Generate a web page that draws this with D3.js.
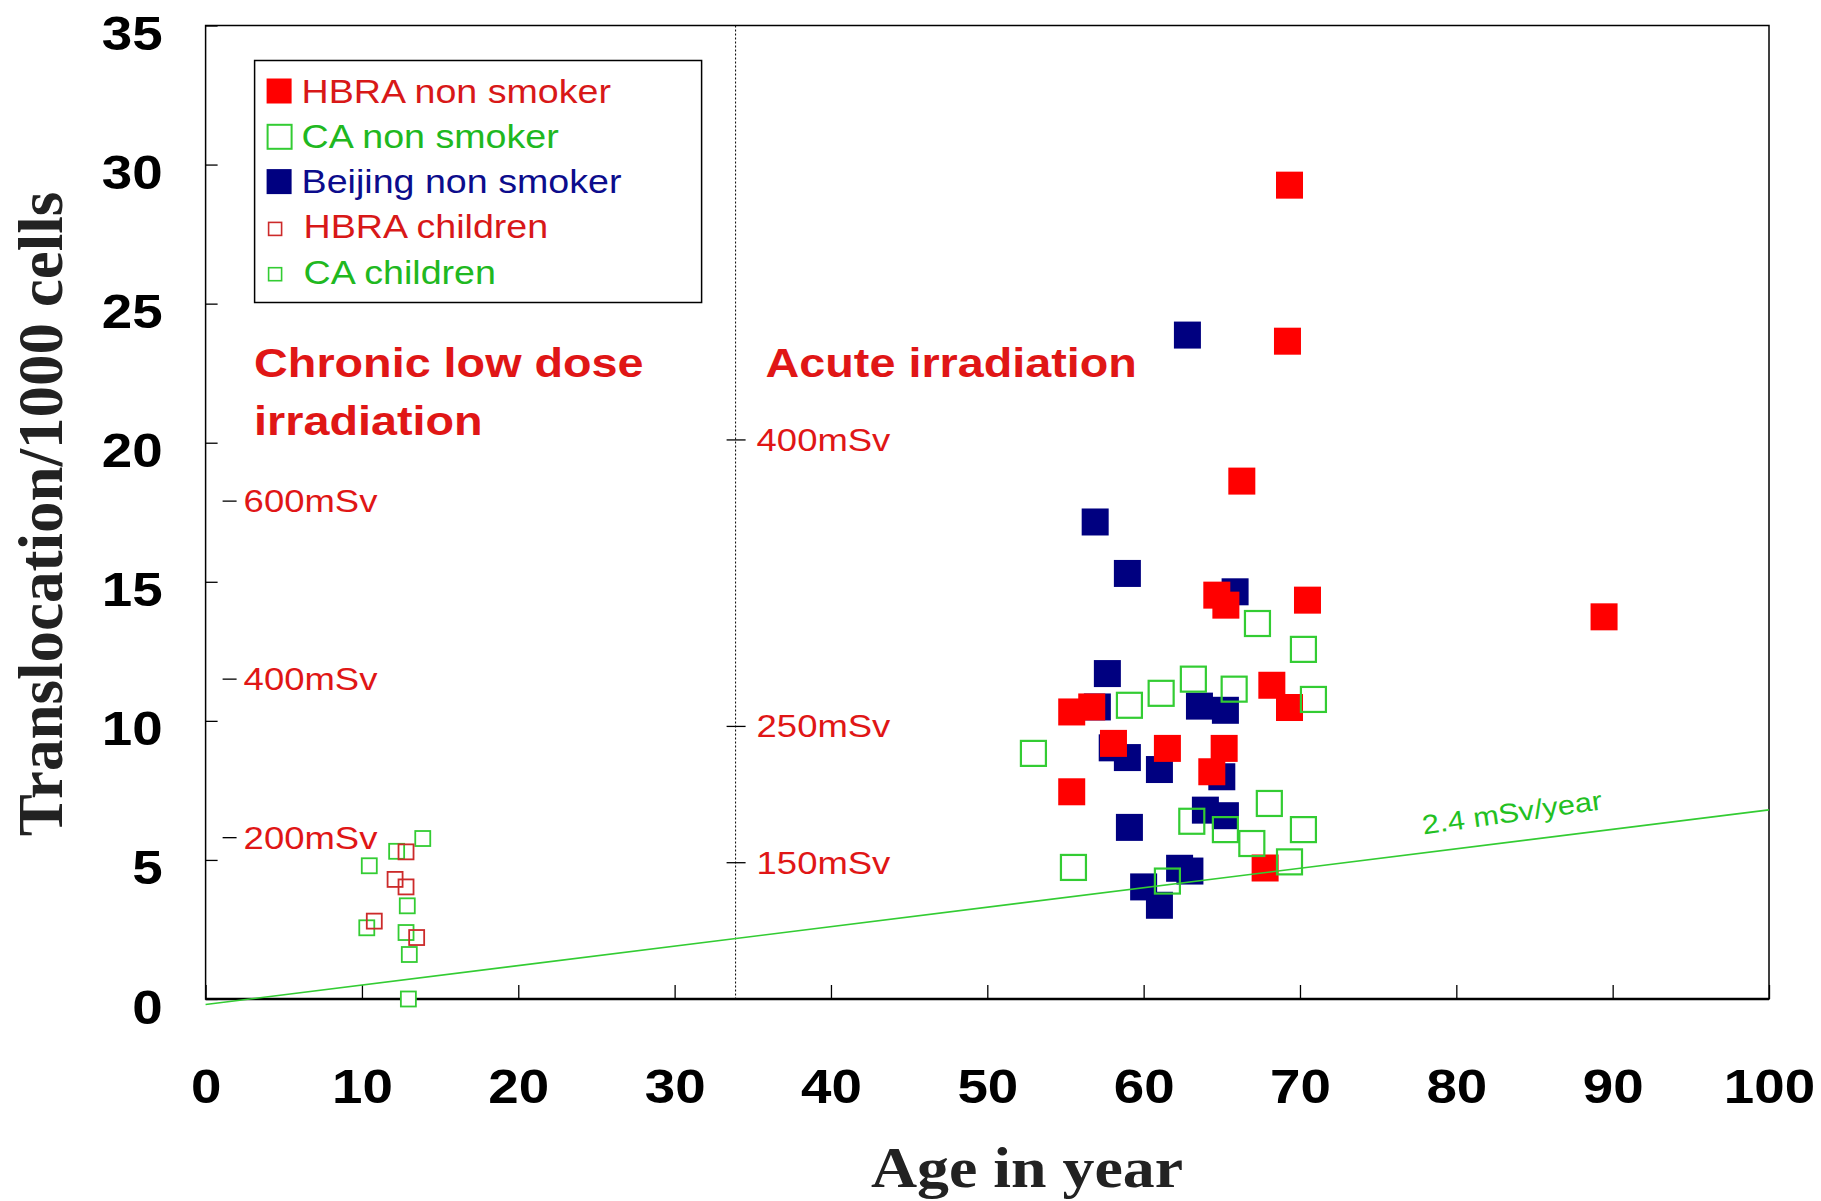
<!DOCTYPE html>
<html>
<head>
<meta charset="utf-8">
<script src="https://cdn.jsdelivr.net/npm/d3@7"></script>
<style>
  body { margin: 0; background: #fff; }
  svg { display: block; }
</style>
</head>
<body>
<svg id="chart" width="1821" height="1201"></svg>
<script>
// [age, translocations per 1000 cells]
const hbraAdult = [
  [69.33, 29.26], [69.2, 23.65], [66.28, 18.62], [64.68, 14.52], [65.26, 14.16],
  [70.48, 14.34], [89.45, 13.74], [68.2, 11.28], [69.33, 10.48], [55.4, 10.32],
  [56.68, 10.5], [58.07, 9.19], [61.52, 9.01], [65.15, 9.01], [64.36, 8.17],
  [55.4, 7.45], [67.77, 4.71]
];
const beijingAdult = [
  [62.8, 23.87], [56.9, 17.15], [58.96, 15.3], [65.85, 14.64], [57.68, 11.7],
  [57.04, 10.5], [63.57, 10.53], [65.23, 10.38], [57.99, 9.03], [58.96, 8.68],
  [61.01, 8.25], [65.0, 7.99], [59.09, 6.17], [63.95, 6.79], [65.23, 6.59],
  [62.3, 4.7], [62.96, 4.6], [60.0, 4.03], [61.01, 3.37]
];
const caAdult = [
  [67.28, 13.5], [70.22, 12.57], [63.18, 11.5], [61.12, 10.99], [65.79, 11.14],
  [59.09, 10.56], [70.86, 10.77], [52.95, 8.83], [68.04, 7.03], [63.08, 6.39],
  [65.23, 6.09], [66.92, 5.59], [70.22, 6.09], [69.33, 4.93], [55.51, 4.73],
  [61.52, 4.24]
];
const hbraChildren = [[12.82, 5.29], [12.12, 4.3], [12.82, 4.03], [10.79, 2.8], [13.5, 2.21]];
const caChildren = [
  [13.89, 5.77], [12.22, 5.31], [10.47, 4.79], [12.9, 3.35], [10.31, 2.56],
  [12.82, 2.39], [13.03, 1.6], [12.97, 0.0]
];

const xTicks = [0, 10, 20, 30, 40, 50, 60, 70, 80, 90, 100];
const yTicks = [0, 5, 10, 15, 20, 25, 30, 35];
const backgroundLine = [[0, -0.2], [100, 6.8]];   // 2.4 mSv/year
const dividerAge = 33.9;
const chronicDose = [["600mSv", 17.9], ["400mSv", 11.5], ["200mSv", 5.8]];
const acuteDose = [["400mSv", 20.1], ["250mSv", 9.8], ["150mSv", 4.9]];
const legendItems = [
  { label: "HBRA non smoker", kind: "big-fill", color: "#ff0000", text: "#d81818" },
  { label: "CA non smoker", kind: "big-open", color: "#33cc33", text: "#20b820" },
  { label: "Beijing non smoker", kind: "big-fill", color: "#000080", text: "#0c0c8c" },
  { label: "HBRA children", kind: "small-open", color: "#cc2a2a", text: "#d81818" },
  { label: "CA children", kind: "small-open", color: "#33cc33", text: "#20b820" }
];

const SX = 1.14; // the source picture is a little stretched sideways
const RED = "#e01616";

const svg = d3.select("#chart"),
    margin = { top: 25.5, right: 52, bottom: 202, left: 205.6 },
    width = +svg.attr("width") - margin.left - margin.right,
    height = +svg.attr("height") - margin.top - margin.bottom;

const x = d3.scaleLinear().domain([0, 100]).range([0, width]);
const y = d3.scaleLinear().domain([0, 35]).range([height, 0]);

const g = svg.append("g")
    .attr("transform", "translate(" + margin.left + "," + margin.top + ")");

const stext = (sel, px, py, str) => sel.append("text")
    .attr("transform", "translate(" + px + "," + py + ") scale(" + SX + ",1)")
    .text(str);

// frame
g.append("rect")
    .attr("width", width).attr("height", height)
    .attr("fill", "none").attr("stroke", "#000").attr("stroke-width", 1.5);

// axes
const yAxis = g.append("g")
    .call(d3.axisLeft(y).tickValues(yTicks).tickSize(-12).tickFormat(d3.format("d")));
const xAxis = g.append("g")
    .attr("transform", "translate(0," + height + ")")
    .call(d3.axisBottom(x).tickValues(xTicks).tickSize(-14).tickFormat(d3.format("d")));

[yAxis, xAxis].forEach((a) => {
    a.select(".domain").remove();
    a.selectAll("line").attr("stroke", "#000").attr("stroke-width", 1.3);
    a.selectAll("text")
        .attr("fill", "#000")
        .attr("font-family", "'Liberation Sans', Arial, sans-serif")
        .attr("font-weight", "bold")
        .attr("font-size", 48);
});
yAxis.selectAll("text")
    .attr("x", 0).attr("dy", "0.5em")
    .attr("transform", "translate(-43,0) scale(" + SX + ",1)");
xAxis.selectAll("text")
    .attr("y", 0).attr("dy", "0.71em")
    .attr("transform", "translate(0,70) scale(" + SX + ",1)");

g.append("line")
    .attr("x1", 0).attr("x2", width).attr("y1", height).attr("y2", height)
    .attr("stroke", "#000").attr("stroke-width", 2.5);

// divider between chronic and acute
g.append("line")
    .attr("x1", x(dividerAge)).attr("x2", x(dividerAge))
    .attr("y1", 0).attr("y2", height)
    .attr("stroke", "#000").attr("stroke-width", 1)
    .attr("stroke-dasharray", "2,2");

// dose labels
const doseG = g.append("g")
    .attr("font-family", "'Liberation Sans', Arial, sans-serif")
    .attr("font-size", 32).attr("fill", RED);
chronicDose.forEach(([lab, v]) => {
    doseG.append("line").attr("x1", 17).attr("x2", 31).attr("y1", y(v)).attr("y2", y(v))
        .attr("stroke", "#000").attr("stroke-width", 1.3);
    stext(doseG, 38, y(v) + 11, lab);
});
acuteDose.forEach(([lab, v]) => {
    doseG.append("line").attr("x1", x(dividerAge) - 9).attr("x2", x(dividerAge) + 10)
        .attr("y1", y(v)).attr("y2", y(v))
        .attr("stroke", "#000").attr("stroke-width", 1.3);
    stext(doseG, x(dividerAge) + 21, y(v) + 11, lab);
});

// region titles
const titleG = g.append("g")
    .attr("font-family", "'Liberation Sans', Arial, sans-serif")
    .attr("font-weight", "bold").attr("font-size", 41).attr("fill", RED);
stext(titleG, 48.5, 351, "Chronic low dose");
stext(titleG, 48.5, 409, "irradiation");
stext(titleG, x(dividerAge) + 30, 351, "Acute irradiation");

// points
const big = 27, small = 15;
const squares = (data, size, fill, stroke, sw) => g.append("g")
    .selectAll("rect")
    .data(data)
    .enter()
    .append("rect")
    .attr("x", (d) => x(d[0]) - size / 2)
    .attr("y", (d) => y(d[1]) - size / 2)
    .attr("width", size).attr("height", size)
    .attr("fill", fill)
    .attr("stroke", stroke)
    .attr("stroke-width", sw);

squares(beijingAdult, big, "#000080", "none", 0);
squares(hbraAdult, big, "#ff0000", "none", 0);
squares(caAdult, big - 2, "none", "#33cc33", 2.2);
squares(caChildren, small, "#fff", "#33cc33", 1.8);
squares(hbraChildren, small, "none", "#cc2a2a", 1.8);

// 2.4 mSv/year line
g.append("path")
    .datum(backgroundLine)
    .attr("d", d3.line().x((d) => x(d[0])).y((d) => y(d[1])))
    .attr("fill", "none").attr("stroke", "#33cc33").attr("stroke-width", 1.6);
g.append("text")
    .attr("transform", "translate(1218,809) rotate(-8) scale(" + SX + ",1)")
    .attr("font-family", "'Liberation Sans', Arial, sans-serif")
    .attr("font-size", 27).attr("fill", "#22c022")
    .text("2.4 mSv/year");

// legend
const lg = g.append("g").attr("transform", "translate(49,35)");
lg.append("rect")
    .attr("width", 447).attr("height", 242)
    .attr("fill", "#fff").attr("stroke", "#000").attr("stroke-width", 1.5);
const rowY = (i) => 31 + i * 45.3;
legendItems.forEach((it, i) => {
    const row = lg.append("g").attr("transform", "translate(0," + rowY(i) + ")");
    if (it.kind === "big-fill") {
        row.append("rect").attr("x", 12).attr("y", -13).attr("width", 25).attr("height", 25)
            .attr("fill", it.color);
    } else if (it.kind === "big-open") {
        row.append("rect").attr("x", 13).attr("y", -12).attr("width", 24).attr("height", 24)
            .attr("fill", "none").attr("stroke", it.color).attr("stroke-width", 2);
    } else {
        row.append("rect").attr("x", 14).attr("y", -5).attr("width", 13).attr("height", 13)
            .attr("fill", "none").attr("stroke", it.color).attr("stroke-width", 1.6);
    }
    row.append("text")
        .attr("transform", "translate(" + (it.kind === "small-open" ? 49 : 47) + ",11) scale(" + SX + ",1)")
        .attr("font-family", "'Liberation Sans', Arial, sans-serif")
        .attr("font-size", 33).attr("fill", it.text)
        .text(it.label);
});

// axis titles
svg.append("text")
    .attr("transform", "translate(62,514) rotate(-90)")
    .attr("text-anchor", "middle")
    .attr("font-family", "'Liberation Serif', 'Times New Roman', serif")
    .attr("font-weight", "bold").attr("font-size", 63).attr("fill", "#222")
    .text("Translocation/1000 cells");
svg.append("text")
    .attr("transform", "translate(1027,1187) scale(" + SX + ",1)")
    .attr("text-anchor", "middle")
    .attr("font-family", "'Liberation Serif', 'Times New Roman', serif")
    .attr("font-weight", "bold").attr("font-size", 56).attr("fill", "#222")
    .text("Age in year");
</script>
</body>
</html>
